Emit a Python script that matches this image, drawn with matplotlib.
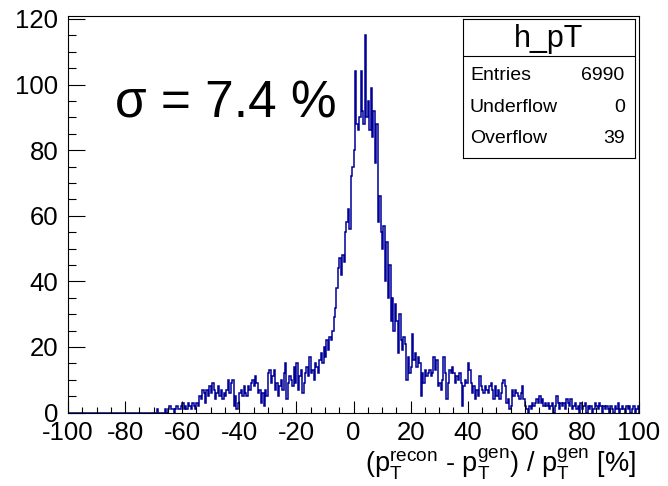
import numpy as np
import matplotlib.pyplot as plt
from matplotlib.ticker import MultipleLocator

plt.rcParams['font.family'] = ['Liberation Sans', 'DejaVu Sans']
plt.rcParams['mathtext.fontset'] = 'custom'
plt.rcParams['mathtext.rm'] = 'Liberation Sans'
plt.rcParams['mathtext.it'] = 'Liberation Sans:italic'
plt.rcParams['mathtext.default'] = 'rm'
plt.rcParams['axes.unicode_minus'] = False

# histogram h_pT: 400 bins from -100 to 100 (bin width 0.5)
x_min, x_max, n_bins = -100, 100, 400

counts_m100_m70 = [0] * 60
counts_m70_m60 = [0, 0, 1, 0, 0, 0, 0, 0, 1, 0, 1, 2, 1, 1, 0, 1, 2, 1, 1, 2]
counts_m60_m50 = [3, 1, 2, 1, 3, 2, 1, 3, 2, 1, 3, 2, 5, 4, 7, 6, 3, 7, 5, 8]
counts_m50_m40 = [6, 9, 7, 4, 6, 8, 5, 7, 4, 6, 5, 7, 10, 6, 9, 10, 2, 5, 1, 3]
counts_m40_m30 = [6, 7, 5, 8, 6, 5, 8, 7, 9, 10, 8, 11, 9, 6, 7, 3, 6, 2, 7, 5]
counts_m30_m20 = [12, 13, 9, 11, 13, 7, 9, 5, 8, 10, 7, 12, 15, 4, 9, 11, 10, 8, 14, 9]
counts_m20_m10 = [15, 7, 11, 13, 6, 9, 12, 14, 11, 17, 12, 13, 10, 15, 14, 12, 16, 18, 15, 20]
counts_m10_0 = [17, 22, 19, 23, 22, 25, 29, 32, 38, 44, 47, 42, 48, 46, 55, 58, 62, 56, 72, 75]
counts_0_10 = [80, 104, 88, 86, 90, 104, 92, 88, 115, 90, 95, 86, 99, 84, 92, 76, 88, 58, 66, 55]
counts_10_20 = [50, 57, 40, 52, 35, 45, 28, 35, 25, 33, 28, 18, 30, 22, 19, 23, 21, 10, 17, 12]
counts_20_30 = [14, 24, 16, 18, 14, 17, 15, 5, 12, 9, 13, 11, 12, 13, 11, 12, 17, 13, 16, 8]
counts_30_40 = [9, 7, 10, 17, 12, 4, 9, 13, 12, 14, 12, 9, 11, 10, 12, 9, 2, 8, 10, 9]
counts_40_50 = [15, 13, 9, 6, 8, 4, 7, 5, 11, 8, 7, 6, 8, 7, 6, 8, 9, 7, 4, 8]
counts_50_60 = [5, 7, 4, 6, 9, 10, 8, 3, 4, 1, 2, 7, 5, 7, 6, 5, 4, 6, 8, 4]
counts_60_70 = [2, 1, 0, 2, 1, 3, 2, 3, 4, 3, 5, 3, 4, 2, 3, 2, 3, 1, 2, 3]
counts_70_80 = [0, 2, 5, 3, 1, 3, 2, 3, 1, 4, 3, 2, 4, 1, 2, 3, 1, 2, 0, 3]
counts_80_90 = [1, 2, 3, 0, 2, 1, 2, 0, 1, 3, 2, 1, 3, 2, 0, 2, 1, 2, 1, 0]
counts_90_100 = [2, 1, 0, 2, 1, 3, 0, 1, 2, 1, 0, 2, 1, 2, 0, 1, 2, 0, 1, 2]

counts = np.array(counts_m100_m70 + counts_m70_m60 + counts_m60_m50 + counts_m50_m40
                  + counts_m40_m30 + counts_m30_m20 + counts_m20_m10 + counts_m10_0
                  + counts_0_10 + counts_10_20 + counts_20_30 + counts_30_40
                  + counts_40_50 + counts_50_60 + counts_60_70 + counts_70_80
                  + counts_80_90 + counts_90_100)
edges = np.linspace(x_min, x_max, n_bins + 1)

hist_name = 'h_pT'
stats_labels = ['Entries', 'Underflow', 'Overflow']
stats_values = ['6990', '0', '39']
sigma_text = 'σ = 7.4 %'

fig = plt.figure(figsize=(6.68, 4.86), dpi=100)
ax = fig.add_axes([68 / 668, 73.5 / 486, 571 / 668, 396 / 486])

ax.stairs(counts, edges, color='#000099', lw=1.1, baseline=0)
ax.set_xlim(x_min, x_max)
ax.set_ylim(0, 1.05 * counts.max())

# ROOT-like axes
ax.xaxis.set_major_locator(MultipleLocator(20))
ax.xaxis.set_minor_locator(MultipleLocator(5))
ax.yaxis.set_major_locator(MultipleLocator(20))
ax.yaxis.set_minor_locator(MultipleLocator(5))
ax.tick_params(which='both', direction='in', top=False, right=False, labelsize=18.5, width=0.8)
ax.tick_params(axis='x', which='major', length=8.6, pad=6)
ax.tick_params(axis='x', which='minor', length=4.3)
ax.tick_params(axis='y', which='major', length=12.3, pad=7)
ax.tick_params(axis='y', which='minor', length=6.1)
for sp in ax.spines.values():
    sp.set_linewidth(0.8)

ax.text(0.082, 0.746, sigma_text, transform=ax.transAxes, fontsize=37,
        ha='left', va='baseline')

fig.text(636 / 668, 14 / 486,
         r'$(p_T^{recon}$ - $p_T^{gen})$ / $p_T^{gen}$ [%]',
         ha='right', va='baseline', fontsize=19.5)

# stats box
sb = fig.add_axes([463 / 668, (486 - 158) / 486, 172 / 668, 139 / 486])
sb.set_xticks([])
sb.set_yticks([])
sb.set_xlim(0, 1)
sb.set_ylim(0, 1)
for sp in sb.spines.values():
    sp.set_linewidth(0.8)
sb.axhline(0.736, color='black', lw=0.8)
sb.text(0.5, 0.80, hist_name, ha='center', va='baseline', fontsize=22)
rows_y = [0.561, 0.331, 0.108]
for lab, val, yy in zip(stats_labels, stats_values, rows_y):
    sb.text(0.04, yy, lab, ha='left', va='baseline', fontsize=14)
    sb.text(0.94, yy, val, ha='right', va='baseline', fontsize=14)

fig.savefig('out.png', dpi=100)
